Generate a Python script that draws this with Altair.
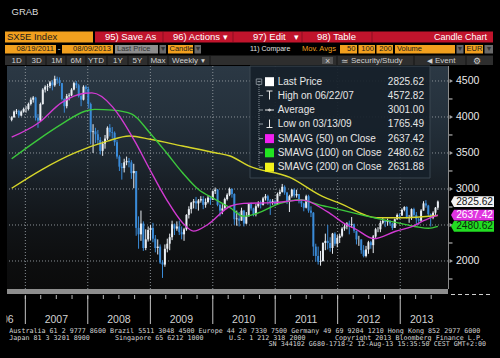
import altair as alt
import pandas as pd

SANS = "'Liberation Sans', Arial, sans-serif"
MONO = "'DejaVu Sans Mono', monospace"

# ---------------- data ----------------
first_open = 3960
close_2006 = [3995, 4075, 4085, 4020, 4075, 4110]
high_2006 = [4010, 4090, 4110, 4100, 4090, 4130]
low_2006 = [3940, 3990, 4040, 3990, 4010, 4060]

close_2007 = [4110, 4180, 4240, 4270, 3990, 3950, 4180, 4380, 4420, 4430, 4480, 4440, 4530,
              4510, 4470, 4250, 4150, 4290, 4300, 4380, 4470, 4440, 4290, 4240, 4420, 4390]
high_2007 = [4150, 4200, 4270, 4290, 4280, 4040, 4200, 4400, 4440, 4460, 4500, 4510, 4573,
             4560, 4550, 4470, 4260, 4320, 4330, 4400, 4490, 4500, 4460, 4310, 4440, 4440]
low_2007 = [4060, 4090, 4160, 4200, 3950, 3850, 3940, 4170, 4340, 4360, 4400, 4370, 4420,
            4460, 4430, 4230, 4060, 4120, 4230, 4290, 4370, 4400, 4270, 4150, 4230, 4330]

close_2008 = [4180, 3790, 3800, 3760, 3680, 3530, 3630, 3700, 3850, 3790, 3780, 3650, 3450,
              3310, 3290, 3370, 3390, 3370, 3220, 3250, 2460, 2370, 2520, 2180, 2300, 2430]
high_2008 = [4420, 4200, 3900, 3850, 3820, 3720, 3660, 3750, 3870, 3900, 3860, 3800, 3680,
             3470, 3360, 3420, 3450, 3430, 3400, 3350, 3250, 2620, 2700, 2550, 2440, 2480]
low_2008 = [4120, 3620, 3500, 3640, 3620, 3480, 3460, 3560, 3680, 3730, 3700, 3600, 3420,
            3250, 3130, 3230, 3330, 3300, 3140, 3010, 2350, 2170, 2280, 2140, 2150, 2270]

close_2009 = [2460, 2310, 2180, 2200, 1980, 1950, 2170, 2240, 2330, 2510, 2450, 2480, 2400,
              2370, 2440, 2640, 2720, 2810, 2830, 2800, 2840, 2860, 2780, 2820, 2880, 2850]
high_2009 = [2500, 2530, 2360, 2300, 2230, 2010, 2230, 2310, 2380, 2560, 2520, 2550, 2560,
             2480, 2460, 2650, 2760, 2820, 2860, 2890, 2860, 2900, 2900, 2870, 2910, 2900]
low_2009 = [2290, 2260, 2120, 2090, 1960, 1765, 1920, 2120, 2150, 2290, 2360, 2420, 2360,
            2300, 2280, 2420, 2590, 2660, 2730, 2720, 2700, 2810, 2720, 2740, 2800, 2780]

close_2010 = [2970, 2990, 2780, 2700, 2730, 2860, 2920, 3000, 2930, 2580, 2590, 2560, 2700, 2520,
              2620, 2790, 2730, 2650, 2760, 2800, 2780, 2870, 2900, 2840, 2810, 2830, 2790]
high_2010 = [2980, 3020, 3000, 2800, 2790, 2880, 2940, 3020, 3010, 2940, 2700, 2680, 2740, 2710,
             2680, 2800, 2810, 2740, 2790, 2830, 2840, 2890, 2930, 2920, 2860, 2860, 2850]
low_2010 = [2880, 2930, 2760, 2620, 2650, 2740, 2840, 2900, 2880, 2500, 2490, 2480, 2580, 2480,
            2510, 2620, 2700, 2620, 2620, 2740, 2730, 2770, 2840, 2780, 2640, 2780, 2770]

close_2011 = [2930, 2960, 3030, 2950, 2830, 2900, 2990, 2910, 2930, 2830, 2800, 2740, 2900,
              2700, 2670, 2200, 2070, 1990, 2000, 2250, 2280, 2250, 2180, 2380, 2240, 2320]
high_2011 = [2950, 2990, 3070, 3050, 2960, 2920, 3000, 3010, 2990, 2930, 2860, 2810, 2920,
             2920, 2760, 2680, 2240, 2200, 2140, 2260, 2380, 2500, 2330, 2390, 2400, 2360]
low_2011 = [2780, 2900, 2950, 2920, 2790, 2680, 2880, 2880, 2880, 2800, 2750, 2690, 2730,
            2670, 2610, 2070, 1990, 1950, 1935, 1990, 2150, 2160, 2130, 2100, 2210, 2190]

close_2012 = [2350, 2450, 2480, 2520, 2500, 2510, 2420, 2300, 2300, 2150, 2070, 2160, 2260,
              2220, 2340, 2440, 2440, 2530, 2560, 2540, 2560, 2520, 2460, 2580, 2640, 2630]
high_2012 = [2380, 2470, 2520, 2540, 2560, 2610, 2520, 2400, 2350, 2290, 2220, 2210, 2280,
             2280, 2360, 2460, 2470, 2560, 2600, 2570, 2590, 2560, 2530, 2590, 2660, 2660]
low_2012 = [2250, 2330, 2420, 2440, 2370, 2460, 2390, 2230, 2210, 2100, 2050, 2050, 2100,
            2170, 2110, 2320, 2400, 2400, 2510, 2470, 2490, 2490, 2430, 2460, 2570, 2580]

close_2013 = [2710, 2750, 2600, 2610, 2720, 2640, 2580, 2560, 2700, 2800, 2770, 2650, 2600,
              2670, 2740, 2825.62]
high_2013 = [2730, 2760, 2760, 2640, 2730, 2740, 2680, 2600, 2720, 2830, 2845, 2780, 2660,
             2690, 2750, 2840]
low_2013 = [2640, 2690, 2590, 2530, 2570, 2600, 2510, 2500, 2540, 2700, 2740, 2620, 2480,
            2580, 2640, 2710]

ma50_dates = ["2006-10-13", "2007-03-20", "2007-08-01", "2007-12-15", "2008-01-25", "2008-05-25",
              "2008-06-20", "2008-10-05", "2008-12-28", "2009-04-05", "2009-07-08", "2009-09-10",
              "2009-12-05", "2010-04-12", "2010-07-01", "2010-12-20", "2011-06-10", "2011-11-01",
              "2012-02-24", "2012-04-10", "2012-08-01", "2012-12-01", "2013-03-14", "2013-05-18",
              "2013-08-09"]
ma50_vals = [3720, 3920, 4200, 4330, 4335, 4140, 4060, 3650, 3274, 2857, 2532, 2415, 2510, 2760,
             2800, 2810, 2845, 2685, 2500, 2450, 2310, 2410, 2480, 2560, 2637.42]

ma100_dates = ["2006-10-13", "2007-03-20", "2007-08-01", "2007-12-15", "2008-02-10", "2008-05-25",
               "2008-09-15", "2008-12-28", "2009-04-05", "2009-07-08", "2009-10-08", "2010-01-15",
               "2010-04-12", "2010-07-01", "2010-09-15", "2011-01-30", "2011-05-25", "2011-09-15",
               "2011-11-01", "2012-08-15", "2013-01-01", "2013-06-15", "2013-08-09"]
ma100_vals = [3420, 3690, 3900, 4080, 4105, 4095, 4040, 3782, 3504, 3226, 2996, 2857, 2740, 2620,
              2660, 2800, 2850, 2780, 2755, 2593, 2523, 2454, 2480.62]

ma200_dates = ["2006-10-13", "2007-04-08", "2007-10-20", "2008-04-25", "2008-09-01", "2009-01-01",
               "2009-07-08", "2010-01-15", "2010-04-12", "2010-07-30", "2011-03-28", "2011-10-01",
               "2012-01-15", "2012-08-15", "2013-01-01", "2013-08-09"]
ma200_vals = [3010, 3270, 3505, 3665, 3736, 3690, 3597, 3504, 3458, 3320, 3160, 2900, 2800, 2600,
              2600, 2631.88]

price_levels = [2000, 2500, 3000, 3500, 4000, 4500]
label_levels = [2000, 3000, 3500, 4000, 4500]   # 2500 sits under the price tags
minor_levels = [1750, 2250, 2750, 3250, 3750, 4250]
year_starts = ["2007-01-01", "2008-01-01", "2009-01-01", "2010-01-01", "2011-01-01", "2012-01-01",
               "2013-01-01"]
year_labels = ["2007", "2008", "2009", "2010", "2011", "2012", "2013"]
year_label_dates = ["2007-07-01", "2008-07-01", "2009-07-01", "2010-07-01", "2011-07-01",
                    "2012-07-01", "2013-05-06"]

legend_labels = ["Last Price", "High on 06/22/07", "Average", "Low on 03/13/09",
                 "SMAVG (50) on Close", "SMAVG (100) on Close", "SMAVG (200) on Close"]
legend_values = ["2825.62", "4572.82", "3001.00", "1765.49", "2637.42", "2480.62", "2631.88"]

tag_values = [2825.62, 2637.42, 2480.62]
tag_labels = ["2825.62", "2637.42", "2480.62"]

# ---------------- frames ----------------
closes = (close_2006 + close_2007 + close_2008 + close_2009 + close_2010 + close_2011
          + close_2012 + close_2013)
highs = (high_2006 + high_2007 + high_2008 + high_2009 + high_2010 + high_2011
         + high_2012 + high_2013)
lows = (low_2006 + low_2007 + low_2008 + low_2009 + low_2010 + low_2011
        + low_2012 + low_2013)
opens = [first_open] + closes[:-1]
dates = pd.date_range("2006-10-13", periods=len(closes), freq="14D")
candles = pd.DataFrame({
    "date": dates, "open": opens, "close": closes,
    "high": [max(h, o, c) for h, o, c in zip(highs, opens, closes)],
    "low": [min(l, o, c) for l, o, c in zip(lows, opens, closes)],
})
candles["dir"] = ["up" if c >= o else "down" for o, c in zip(opens, closes)]

# ---------------- layout ----------------
LEFT, TOP, W, H = 7, 66, 441, 223
def px(x):
    return x - LEFT
def py(y):
    return y - TOP

xs = alt.Scale(domain=[alt.DateTime(year=2006, month=10, date=15),
                       alt.DateTime(year=2013, month=9, date=8)], nice=False)
ys = alt.Scale(domain=[1611, 4708], zero=False, nice=False)

ORANGE = "#f2a01e"
RED = "#c0142c"
DARK = "#1c1c1c"
WHITE = "#ffffff"
LG = "#d0d0d0"

one = pd.DataFrame({"k": [0]})

bg = alt.Chart(one).mark_rect(
    color=alt.LinearGradient(
        gradient="linear", x1=0, x2=0, y1=0, y2=1,
        stops=[alt.GradientStop(color="#2b3844", offset=0),
               alt.GradientStop(color="#25313c", offset=0.22),
               alt.GradientStop(color="#1e2831", offset=0.40),
               alt.GradientStop(color="#171d23", offset=0.56),
               alt.GradientStop(color="#111417", offset=0.72),
               alt.GradientStop(color="#0d0e0f", offset=0.88),
               alt.GradientStop(color="#0b0b0b", offset=1)])
).encode(x=alt.value(0), x2=alt.value(W), y=alt.value(0), y2=alt.value(H))

hgrid = alt.Chart(pd.DataFrame({"level": price_levels})).mark_rule(
    color="#8a9197", strokeDash=[1, 2], strokeWidth=1
).encode(y=alt.Y("level:Q", scale=ys, axis=None))

vgrid = alt.Chart(pd.DataFrame({"date": pd.to_datetime(year_starts)})).mark_rule(
    color="#8a9197", strokeDash=[1, 2], strokeWidth=1
).encode(x=alt.X("date:T", scale=xs, axis=None))

legbox = alt.Chart(one).mark_rect(
    fill="#16202a", opacity=0.92, stroke="#3d4853", strokeWidth=1
).encode(x=alt.value(px(250)), x2=alt.value(px(430)), y=alt.value(py(66)), y2=alt.value(py(178)))

cscale = alt.Scale(domain=["up", "down"], range=["#e9eef3", "#3a8bd8"])
wicks = alt.Chart(candles).mark_rule(strokeWidth=1, clip=True).encode(
    x=alt.X("date:T", scale=xs, axis=None),
    y=alt.Y("low:Q", scale=ys, axis=None), y2="high:Q",
    color=alt.Color("dir:N", scale=cscale, legend=None))
bodies = alt.Chart(candles).mark_bar(size=2, clip=True).encode(
    x=alt.X("date:T", scale=xs, axis=None),
    y=alt.Y("open:Q", scale=ys, axis=None), y2="close:Q",
    color=alt.Color("dir:N", scale=cscale, legend=None))

def ma_line(d, v, col):
    df = pd.DataFrame({"date": pd.to_datetime(d), "v": v})
    return alt.Chart(df).mark_line(color=col, strokeWidth=1.4, interpolate="monotone",
                                   clip=True).encode(
        x=alt.X("date:T", scale=xs, axis=None), y=alt.Y("v:Q", scale=ys, axis=None))

ma200 = ma_line(ma200_dates, ma200_vals, "#d6d62a")
ma100 = ma_line(ma100_dates, ma100_vals, "#3cc83c")
ma50 = ma_line(ma50_dates, ma50_vals, "#d23ad2")

# ---------------- decoration tables ----------------
rects = [
    (5, 31.5, 93, 42.5, ORANGE), (95, 31.5, 493, 42.5, RED),
    (5, 45, 56, 53.5, ORANGE), (62, 45, 113, 53.5, ORANGE),
    (115, 45, 158, 53.5, "#8e8e8e"), (159.5, 45, 166, 53.5, "#6a6a6a"),
    (168, 45, 193, 53.5, ORANGE), (194.5, 45, 201, 53.5, "#6a6a6a"),
    (340, 45, 357, 53.5, ORANGE), (358.5, 45, 375, 53.5, ORANGE),
    (376.5, 45, 393, 53.5, ORANGE), (395, 45, 455, 53.5, ORANGE),
    (456.5, 45, 463.5, 53.5, "#6a6a6a"), (465, 45, 483, 53.5, ORANGE),
    (484.5, 45, 493, 53.5, "#6a6a6a"),
    (5, 55.5, 493, 65, "#2e2e2e"), (322, 57, 333, 64, "#555555"),
    (7, 289, 448, 294, "#8d8d8d"),
]
rect_df = pd.DataFrame([{"x": px(a), "y": py(b), "x2": px(c), "y2": py(d), "f": f}
                        for a, b, c, d, f in rects])
rect_layer = alt.Chart(rect_df).mark_rect().encode(
    x=alt.X("x:Q", scale=None, axis=None), x2="x2:Q",
    y=alt.Y("y:Q", scale=None, axis=None), y2="y2:Q",
    fill=alt.Fill("f:N", scale=None))

seg = [
    (163, 32, 163, 42, "#8a0f20"), (233, 32, 233, 42, "#8a0f20"),
    (302, 32, 302, 42, "#8a0f20"), (372, 32, 372, 42, "#8a0f20"),
]
for sx in [26, 46, 66, 86, 107, 128, 148, 168, 210, 337, 414, 466]:
    seg.append((sx, 56, sx, 65, "#151515"))
seg += [
    (257.5, 81.7, 260.5, 81.7, "#aab3bb"),
    (266.5, 91, 272.5, 91, "#e8e8e8"), (269.5, 91, 269.5, 99.5, "#e8e8e8"),
    (265, 110, 274, 110, "#e8e8e8"),
    (269.5, 119.5, 269.5, 127.5, "#e8e8e8"), (266.5, 127.5, 272.5, 127.5, "#e8e8e8"),
    (448.5, 66, 448.5, 289, "#8a8a8a"),
]
rows_y = [81.7, 95.6, 110, 124, 138.6, 152.8, 167.2]
for ry in rows_y[1:]:
    seg.append((259, ry, 263, ry, "#8a949c"))
seg_df = pd.DataFrame([{"x": px(a), "y": py(b), "x2": px(c), "y2": py(d), "f": f}
                       for a, b, c, d, f in seg])
seg_layer = alt.Chart(seg_df).mark_rule(strokeWidth=1).encode(
    x=alt.X("x:Q", scale=None, axis=None), x2="x2:Q",
    y=alt.Y("y:Q", scale=None, axis=None), y2="y2:Q",
    color=alt.Color("f:N", scale=None))

dotted = alt.Chart(pd.DataFrame([
    {"x": px(259), "y": py(85), "x2": px(259), "y2": py(167.2)},
])).mark_rule(strokeWidth=1, strokeDash=[1, 1], color="#8a949c").encode(
    x=alt.X("x:Q", scale=None, axis=None), x2="x2:Q",
    y=alt.Y("y:Q", scale=None, axis=None), y2="y2:Q")

dashed_bottom = alt.Chart(one).mark_rule(strokeWidth=1, strokeDash=[4, 3], color="#cfcfcf").encode(
    x=alt.value(px(451)), x2=alt.value(px(493)), y=alt.value(py(294.5)))

sq_df = pd.DataFrame({"x": [px(269.5)] * 4,
                      "y": [py(rows_y[0]), py(rows_y[4]), py(rows_y[5]), py(rows_y[6])],
                      "f": ["#ffffff", "#f020f0", "#22e622", "#f2f21c"]})
squares = alt.Chart(sq_df).mark_square(size=81, opacity=1, strokeWidth=0).encode(
    x=alt.X("x:Q", scale=None, axis=None), y=alt.Y("y:Q", scale=None, axis=None),
    fill=alt.Fill("f:N", scale=None))
minus_box = alt.Chart(one).mark_square(size=30, filled=False, color="#aab3bb", strokeWidth=1).encode(
    x=alt.value(px(259)), y=alt.value(py(81.7)))
avg_dot = alt.Chart(one).mark_point(shape="diamond", size=14, filled=True, color="#e8e8e8").encode(
    x=alt.value(px(269.5)), y=alt.value(py(110)))

major_arrows = alt.Chart(pd.DataFrame({"level": price_levels})).mark_point(
    shape="triangle-right", size=16, filled=True, color="#e6e6e6").encode(
    x=alt.value(px(451.3)), y=alt.Y("level:Q", scale=ys, axis=None))
minor_ticks = alt.Chart(pd.DataFrame({"level": minor_levels})).mark_rule(
    color="#d0d0d0", strokeWidth=1).encode(
    x=alt.value(px(449)), x2=alt.value(px(452.5)), y=alt.Y("level:Q", scale=ys, axis=None))
axis_labels = alt.Chart(pd.DataFrame({"level": label_levels})).mark_text(
    align="left", baseline="middle", font=SANS, fontSize=10.5, color="#e8e8e8").encode(
    x=alt.value(px(456)), y=alt.Y("level:Q", scale=ys, axis=None),
    text=alt.Text("level:Q", format="d"))

tag_df = pd.DataFrame({"v": tag_values, "t": tag_labels,
                       "bf": ["#f4f4f4", "#e034e0", "#22dd22"],
                       "tf": ["#111111", "#ffffff", "#0a2a0a"]})
TAG = "M-1,0L-0.86,-0.25L1,-0.25L1,0.25L-0.86,0.25Z"
tag_box = alt.Chart(tag_df).mark_point(shape=TAG, size=1849, filled=True, opacity=1,
                                       strokeWidth=0).encode(
    x=alt.value(px(472.5)), y=alt.Y("v:Q", scale=ys, axis=None),
    fill=alt.Fill("bf:N", scale=None))
tag_txt = alt.Chart(tag_df).mark_text(align="left", baseline="middle", font=SANS,
                                      fontSize=10.2).encode(
    x=alt.value(px(456.2)), y=alt.Y("v:Q", scale=ys, axis=None), text="t:N",
    fill=alt.Fill("tf:N", scale=None))

qdates = pd.date_range("2007-01-01", "2013-07-01", freq="QS")
qticks = alt.Chart(pd.DataFrame({"date": qdates})).mark_rule(color="#b8b8b8").encode(
    x=alt.X("date:T", scale=xs, axis=None), y=alt.value(py(295)), y2=alt.value(py(299)))
yseps = alt.Chart(pd.DataFrame({"date": pd.to_datetime(year_starts)})).mark_rule(
    color="#c4c4c4").encode(
    x=alt.X("date:T", scale=xs, axis=None), y=alt.value(py(296)), y2=alt.value(py(324)))
ylabels = alt.Chart(pd.DataFrame({"date": pd.to_datetime(year_label_dates), "t": year_labels})
                    ).mark_text(font=SANS, fontSize=10.5, color="#d2d2d2", baseline="middle"
                                ).encode(x=alt.X("date:T", scale=xs, axis=None),
                                         y=alt.value(py(319.5)), text="t:N")

def text_layer(items, align, font):
    df = pd.DataFrame([{"x": px(a), "y": py(b), "t": t, "f": f, "s": s}
                       for t, a, b, f, s in items])
    return alt.Chart(df).mark_text(align=align, baseline="middle", font=font).encode(
        x=alt.X("x:Q", scale=None, axis=None), y=alt.Y("y:Q", scale=None, axis=None),
        text="t:N", fill=alt.Fill("f:N", scale=None), size=alt.Size("s:Q", scale=None))

left_items = [
    ("GRAB", 11.5, 12, "#dcdcdc", 9.5),
    ("SX5E Index", 7, 37.3, DARK, 9.5),
    ("95) Save As", 105, 37.3, WHITE, 9.5),
    ("96) Actions", 173, 37.3, WHITE, 9.5),
    ("97) Edit", 253, 37.3, WHITE, 9.5),
    ("98) Table", 317, 37.3, WHITE, 9.5),
    ("Last Price", 117, 49.4, "#333333", 7.5),
    ("Candle", 169.5, 49.4, DARK, 7.5),
    ("11) Compare", 250, 49.4, "#e0e0e0", 7),
    ("Mov. Avgs", 302, 49.4, ORANGE, 7.5),
    ("Volume", 397, 49.4, DARK, 7.5),
    ("EUR", 466.5, 49.4, DARK, 7.5),
    ("Weekly", 172, 60.5, LG, 8),
    ("Security/Study", 351, 60.5, LG, 8),
    ("Event", 435, 60.5, LG, 8),
]
for lab, ry in zip(legend_labels, rows_y):
    left_items.append((lab, 277.7, ry, "#e6e6e6", 10))

right_items = [
    ("Candle Chart", 487, 37.3, WHITE, 9),
    ("08/19/2011", 54, 49.4, DARK, 7.6),
    ("08/09/2013", 111, 49.4, DARK, 7.6),
    ("50", 355.5, 49.4, DARK, 7.6),
    ("100", 374, 49.4, DARK, 7.6),
    ("200", 392, 49.4, DARK, 7.6),
    ("2006", 13.6, 319.5, "#d2d2d2", 10.5),
]
for val, ry in zip(legend_values, rows_y):
    right_items.append((val, 424, ry, "#e6e6e6", 10))

center_items = [
    ("-", 59, 49.4, WHITE, 8),
    ("1D", 16.7, 60.5, LG, 8), ("3D", 36.7, 60.5, LG, 8), ("1M", 56.7, 60.5, LG, 8),
    ("6M", 76, 60.5, LG, 8), ("YTD", 96, 60.5, LG, 8), ("1Y", 118, 60.5, LG, 8),
    ("5Y", 137.5, 60.5, LG, 8), ("Max", 158, 60.5, LG, 8),
    ("▼", 203, 60.5, LG, 6.5), ("×", 327.5, 60.5, LG, 9),
    ("◀", 429, 60.5, LG, 6.5), ("⚙", 477, 60.5, LG, 9), ("≃", 345, 60.5, LG, 9),
    ("▾", 225, 37.3, WHITE, 9), ("▾", 296, 37.3, WHITE, 9),
    ("▾", 162.8, 49.4, "#333333", 8), ("▾", 197.8, 49.4, "#333333", 8),
    ("▾", 460, 49.4, "#333333", 8), ("▾", 488.8, 49.4, "#333333", 8),
]

mono_left = [
    ("Australia 61 2 9777 8600 Brazil 5511 3048 4500 Europe 44 20 7330 7500 Germany 49 69 9204 1210 Hong Kong 852 2977 6000",
     9.3, 331.2, "#d6d6d6", 6.7),
    ("Japan 81 3 3201 8900", 9.3, 337.8, "#d6d6d6", 6.7),
    ("Singapore 65 6212 1000", 115, 337.8, "#d6d6d6", 6.7),
    ("U.S. 1 212 318 2000", 229, 337.8, "#d6d6d6", 6.7),
    ("Copyright 2013 Bloomberg Finance L.P.", 335, 337.8, "#d6d6d6", 6.7),
]
mono_right = [
    ("SN 344102 G680-1718-2 12-Aug-13 15:35:50 CEST GMT+2:00", 486, 344.4, "#d6d6d6", 6.7),
]

cover = alt.Chart(one).mark_rect(fill="#000000").encode(
    x=alt.value(px(0)), x2=alt.value(px(6.4)), y=alt.value(py(305)), y2=alt.value(py(330)))

chart = alt.layer(
    bg, hgrid, vgrid, legbox, wicks, bodies, ma200, ma100, ma50,
    rect_layer, seg_layer, dotted, dashed_bottom, squares, minus_box, avg_dot,
    minor_ticks, major_arrows, axis_labels, tag_box, tag_txt,
    qticks, yseps, ylabels,
    text_layer(left_items, "left", SANS),
    text_layer(right_items, "right", SANS),
    text_layer(center_items, "center", SANS),
    text_layer(mono_left, "left", MONO),
    text_layer(mono_right, "right", MONO),
    cover,
).properties(
    width=W, height=H,
    padding={"left": LEFT, "top": TOP, "right": 500 - LEFT - W, "bottom": 358 - TOP - H},
    autosize=alt.AutoSizeParams(type="none"),
    background="#000000",
).configure_view(strokeWidth=0)

chart.save("out.html", embed_options={"renderer": "svg", "actions": False})
